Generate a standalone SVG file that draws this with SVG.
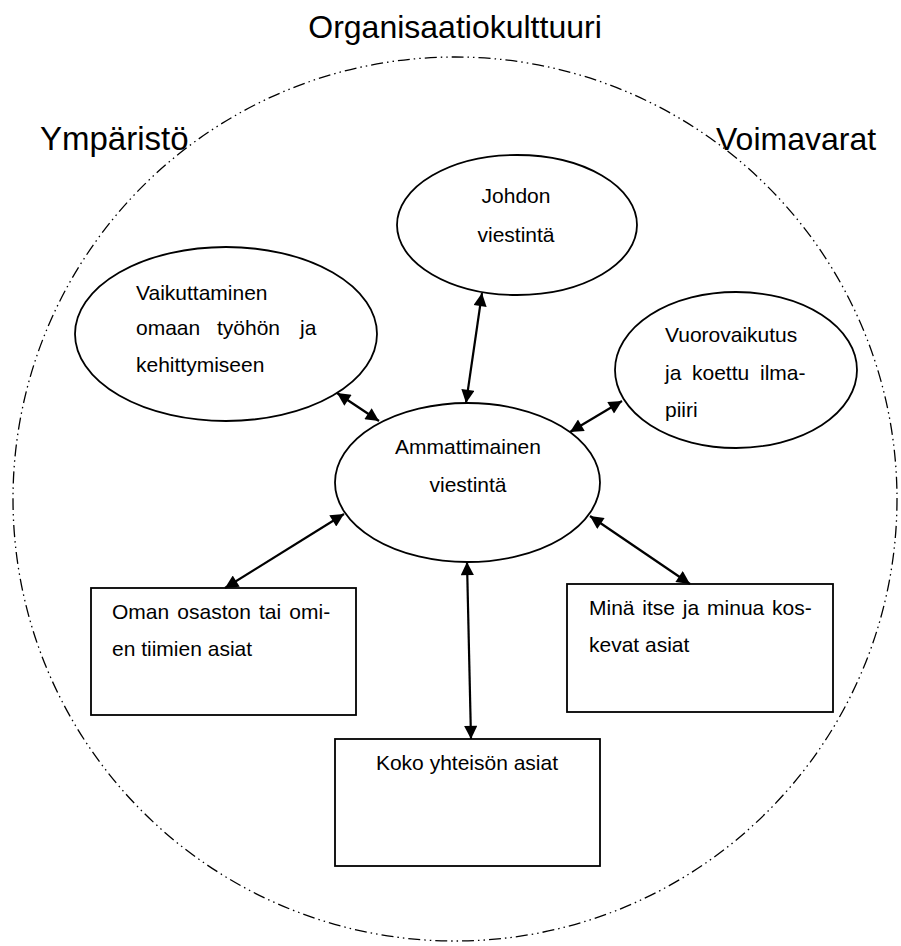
<svg xmlns="http://www.w3.org/2000/svg" width="901" height="946" viewBox="0 0 901 946">
<style>
  text { font-family: "Liberation Sans", Arial, sans-serif; fill: #000; }
  .big { font-size: 32px; }
  .lbl { font-size: 21px; }
  .shape { fill: #fff; stroke: #000; stroke-width: 1.8; }
  .conn { stroke: #000; stroke-width: 2.2; fill: none; marker-start: url(#ah); marker-end: url(#ah); }
  .outer { fill: none; stroke: #000; stroke-width: 1.3; stroke-dasharray: 12 4 1.5 4 1.5 4; }
</style>
<defs>
  <marker id="ah" viewBox="0 0 10 10" refX="10" refY="5" markerWidth="7" markerHeight="6" markerUnits="strokeWidth" orient="auto-start-reverse">
    <path d="M0,0 L10,5 L0,10 Z" fill="#000"/>
  </marker>
</defs>
<rect width="901" height="946" fill="#fff"/>
<g id="outer">
  <circle class="outer" cx="455" cy="499" r="442"/>
  <text class="big" x="455" y="38" text-anchor="middle">Organisaatiokulttuuri</text>
  <text class="big" x="40" y="150" style="font-size:33px">Ympäristö</text>
  <text class="big" x="716" y="150">Voimavarat</text>
</g>
<g id="johdon">
  <ellipse class="shape" cx="517" cy="225" rx="120" ry="70"/>
  <text class="lbl" x="516" y="203" text-anchor="middle">Johdon</text>
  <text class="lbl" x="516" y="242" text-anchor="middle">viestintä</text>
</g>
<g id="vaikuttaminen">
  <ellipse class="shape" cx="226" cy="334" rx="151" ry="87"/>
  <text class="lbl" x="136" y="300">Vaikuttaminen</text>
  <text class="lbl" y="335"><tspan x="136">omaan</tspan><tspan x="217">työhön</tspan><tspan x="300">ja</tspan></text>
  <text class="lbl" x="136" y="372">kehittymiseen</text>
</g>
<g id="vuorovaikutus">
  <ellipse class="shape" cx="736" cy="370" rx="121" ry="78"/>
  <text class="lbl" x="665" y="342">Vuorovaikutus</text>
  <text class="lbl" y="380"><tspan x="665">ja</tspan><tspan x="692">koettu</tspan><tspan x="760">ilma-</tspan></text>
  <text class="lbl" x="665" y="417">piiri</text>
</g>
<g id="ammattimainen">
  <ellipse class="shape" cx="467.5" cy="482.5" rx="132.5" ry="79.5"/>
  <text class="lbl" x="468" y="454" text-anchor="middle">Ammattimainen</text>
  <text class="lbl" x="468" y="492" text-anchor="middle">viestintä</text>
</g>
<g id="oman">
  <rect class="shape" x="91" y="588" width="265" height="127"/>
  <text class="lbl" x="112" y="619" word-spacing="2.3">Oman osaston tai omi-</text>
  <text class="lbl" x="112" y="656">en tiimien asiat</text>
</g>
<g id="mina">
  <rect class="shape" x="567" y="584" width="266" height="128"/>
  <text class="lbl" x="589" y="615" word-spacing="2">Minä itse ja minua kos-</text>
  <text class="lbl" x="589" y="652">kevat asiat</text>
</g>
<g id="koko">
  <rect class="shape" x="335" y="739" width="265" height="127"/>
  <text class="lbl" x="467" y="770" text-anchor="middle">Koko yhteisön asiat</text>
</g>
<g id="connectors">
  <line class="conn" x1="466" y1="403" x2="482" y2="293"/>
  <line class="conn" x1="379" y1="421" x2="337" y2="393"/>
  <line class="conn" x1="570" y1="432" x2="622" y2="401"/>
  <line class="conn" x1="344" y1="514" x2="225" y2="588"/>
  <line class="conn" x1="590" y1="516" x2="690" y2="584"/>
  <line class="conn" x1="467" y1="562" x2="471" y2="739"/>
</g>
</svg>
